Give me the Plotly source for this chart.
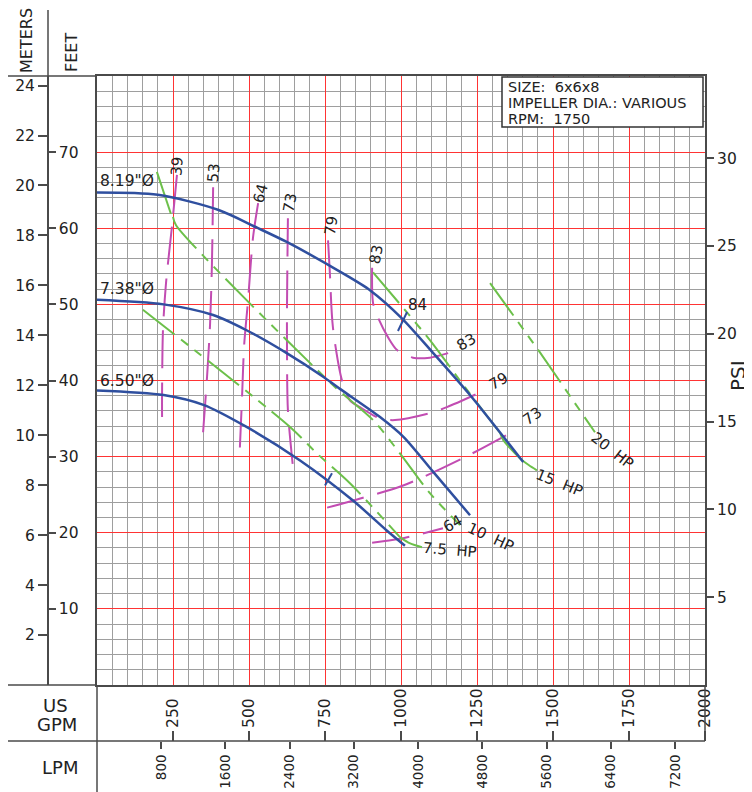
import plotly.graph_objects as go

# page has an 8px body margin, so the figure is 744x784 and placed at (8, 8)
OFF = 8
W, H = 752 - OFF, 792 - OFF

# ---------------- data (US GPM, head in feet) ----------------
gpm_ticks = [250, 500, 750, 1000, 1250, 1500, 1750, 2000]
lpm_ticks = [800, 1600, 2400, 3200, 4000, 4800, 5600, 6400, 7200]
feet_ticks = [10, 20, 30, 40, 50, 60, 70]
meter_ticks = [2, 4, 6, 8, 10, 12, 14, 16, 18, 20, 22, 24]
psi_ticks = [5, 10, 15, 20, 25, 30]

# impeller head curves
imp819_gpm = [0, 200, 400, 525, 624, 799, 900, 1002, 1106, 1227, 1337, 1402]
imp819_ft = [64.7, 64.4, 62.4, 60.1, 58.2, 54.3, 51.8, 48.2, 43.6, 38.1, 32.6, 29.3]
imp738_gpm = [0, 219, 382, 492, 624, 744, 799, 931, 1008, 1106, 1227]
imp738_ft = [50.6, 50.0, 48.6, 46.6, 43.6, 40.5, 38.9, 35.2, 32.6, 28.0, 22.3]
imp650_gpm = [0, 219, 350, 492, 668, 843, 953, 1013]
imp650_ft = [38.7, 38.1, 36.8, 33.9, 29.5, 24.2, 20.3, 18.3]

# best efficiency marks
bep1_gpm = [990, 1020]
bep1_ft = [46.5, 49.0]
bep2_gpm = [750, 773]
bep2_ft = [26.2, 27.8]

# horsepower lines
hp10_solid_gpm = [197, 243]
hp10_solid_ft = [67.4, 61.9]
hp10_gpm = [250, 260, 776, 908, 997, 1095, 1194]
hp10_ft = [61.5, 60.4, 39.4, 34.8, 30.4, 25.2, 21.0]
hp75_gpm = [151, 635, 724, 832, 997]
hp75_ft = [49.3, 33.9, 30.4, 26.5, 19.4]
hp75_end_gpm = [997, 1030, 1069]
hp75_end_ft = [19.4, 18.6, 18.1]
hp15_gpm = [908, 1095, 1194, 1326]
hp15_ft = [54.2, 45.3, 40.0, 33.1]
hp15_end_gpm = [1326, 1336, 1391, 1420, 1447]
hp15_end_ft = [33.1, 32.2, 29.8, 28.9, 28.2]
hp20_gpm = [1293, 1457, 1638]
hp20_ft = [52.8, 43.7, 33.2]

# efficiency curves
eff39_gpm = [263, 247, 227, 217, 214, 214]
eff39_ft = [67.0, 60.4, 52.8, 46.6, 38.3, 35.2]
eff53_gpm = [382, 378, 372, 362, 349]
eff53_ft = [65.4, 55.2, 47.5, 40.5, 33.2]
eff64a_gpm = [530, 513, 497, 484, 477, 470]
eff64a_ft = [63.3, 58.7, 50.6, 44.6, 37.7, 31.2]
eff64b_gpm = [905, 997, 1138]
eff64b_ft = [18.7, 19.2, 20.6]
eff73a_gpm = [628, 625, 625, 628, 645]
eff73a_ft = [61.3, 49.7, 44.0, 36.1, 28.5]
eff73b_gpm = [757, 875, 1007, 1204, 1359]
eff73b_ft = [23.3, 24.6, 26.2, 29.8, 33.1]
eff79_gpm = [760, 766, 776, 806, 832, 865, 931, 980, 1095, 1151, 1253]
eff79_ft = [58.4, 54.1, 47.0, 40.0, 37.4, 36.5, 35.0, 34.8, 35.7, 36.5, 38.3]
eff83_gpm = [905, 908, 924, 957, 987, 1039, 1095, 1155]
eff83_ft = [54.8, 50.2, 48.3, 45.7, 44.0, 43.0, 43.0, 43.6]

# curve labels
imp_labels = [("8.19\"Ø", 66.2), ("7.38\"Ø", 52.0), ("6.50\"Ø", 40.0)]
eff_labels = [("39", 263, 68.2, -85), ("53", 385, 67.2, -85), ("64", 539, 64.6, -75),
              ("73", 635, 63.3, -80), ("79", 770, 60.3, -82), ("83", 918, 56.5, -80),
              ("84", 1053, 49.9, 0), ("83", 1217, 45.0, -30), ("79", 1322, 39.9, -30),
              ("73", 1434, 35.3, -35), ("64", 1168, 21.2, -30)]
hp_labels = [("10  HP", 1293, 19.4, 25), ("7.5  HP", 1161, 17.8, 5),
             ("15  HP", 1523, 26.6, 22), ("20  HP", 1697, 30.8, 38)]
info_lines = ["SIZE:  6x6x8", "IMPELLER DIA.: VARIOUS", "RPM:  1750"]

FT_PER_M = 3.28084
FT_PER_PSI = 2.30666
LPM_PER_GPM = 3.78541

# ---------------- style ----------------
BLUE = "#2f4f9f"
GREEN = "#6cc04a"
MAG = "#c24cb2"
RED = "#ff3434"
GRAY = "#9e9e9e"
AX = "#4a4a4a"
FONT = "DejaVu Sans, Liberation Sans, sans-serif"
TXT = "#222222"


def px(x):
    return (x - OFF) / W


def py(y):
    return 1 - (y - OFF) / H


fig = go.Figure()


def line(xs, ys, color, width=2.0, dash="solid", spline=True):
    fig.add_trace(go.Scatter(
        x=xs, y=ys, mode="lines",
        line=dict(color=color, width=width, dash=dash,
                  shape="spline" if spline else "linear", smoothing=0.8),
        showlegend=False, hoverinfo="skip"))


EFF_DASH = "38px,14px"
HP_DASH = "40px,8px,9px,8px,9px,8px"

for xs, ys in [(eff39_gpm, eff39_ft), (eff53_gpm, eff53_ft), (eff64a_gpm, eff64a_ft),
               (eff64b_gpm, eff64b_ft), (eff73a_gpm, eff73a_ft), (eff73b_gpm, eff73b_ft),
               (eff79_gpm, eff79_ft), (eff83_gpm, eff83_ft)]:
    line(xs, ys, MAG, 2.0, EFF_DASH)

line(hp10_solid_gpm, hp10_solid_ft, GREEN, 2.0, "solid", False)
line(hp10_gpm, hp10_ft, GREEN, 2.0, HP_DASH)
line(hp75_gpm, hp75_ft, GREEN, 2.0, HP_DASH)
line(hp75_end_gpm, hp75_end_ft, GREEN, 2.0, "solid")
line(hp15_gpm, hp15_ft, GREEN, 2.0, HP_DASH)
line(hp15_end_gpm, hp15_end_ft, GREEN, 2.0, "solid")
line(hp20_gpm, hp20_ft, GREEN, 2.0, HP_DASH, False)

for xs, ys in [(imp819_gpm, imp819_ft), (imp738_gpm, imp738_ft), (imp650_gpm, imp650_ft)]:
    line(xs, ys, BLUE, 2.5)
line(bep1_gpm, bep1_ft, BLUE, 2.0, "solid", False)
line(bep2_gpm, bep2_ft, BLUE, 2.0, "solid", False)

# invisible traces so that the extra scale axes are drawn
for xa, ya in [("x2", "y"), ("x3", "y"), ("x", "y2"), ("x", "y3"), ("x", "y4")]:
    fig.add_trace(go.Scatter(x=[None], y=[None], xaxis=xa, yaxis=ya, mode="markers",
                             showlegend=False, hoverinfo="skip"))

ann = []
for t, ft in imp_labels:
    ann.append(dict(x=3, y=ft, xref="x", yref="y", text=t, showarrow=False,
                    xanchor="left", yanchor="middle", font=dict(size=15.5, color=TXT, family=FONT)))
for t, g, ft, a in eff_labels + hp_labels:
    ann.append(dict(x=g, y=ft, xref="x", yref="y", text=t, showarrow=False, textangle=a,
                    xanchor="center", yanchor="middle", font=dict(size=15, color=TXT, family=FONT)))

# info box text
for t, yy in zip(info_lines, [86.5, 103, 119]):
    ann.append(dict(x=px(506), y=py(yy), xref="paper", yref="paper", xanchor="left",
                    yanchor="middle", text=t, showarrow=False,
                    font=dict(size=14.5, color=TXT, family=FONT)))

# axis captions
cap = dict(showarrow=False, xref="paper", yref="paper", xanchor="center", yanchor="middle")
ann.append(dict(cap, x=px(27), y=py(41), text="METERS", textangle=-90, font=dict(size=16, color=TXT, family=FONT)))
ann.append(dict(cap, x=px(71), y=py(52), text="FEET", textangle=-90, font=dict(size=16, color=TXT, family=FONT)))
ann.append(dict(cap, x=px(55), y=py(705), text="US", font=dict(size=18, color=TXT, family=FONT)))
ann.append(dict(cap, x=px(57), y=py(724), text="GPM", font=dict(size=18, color=TXT, family=FONT)))
ann.append(dict(cap, x=px(60), y=py(767), text="LPM", font=dict(size=18, color=TXT, family=FONT)))
ann.append(dict(cap, x=px(738), y=py(376), text="PSI", textangle=-90, font=dict(size=20, color=TXT, family=FONT)))

# frame lines outside the plot area, and the info box
shapes = []
for x0, y0, x1, y1 in [(6, 76, 97, 76), (6, 685, 97, 685), (6, 741, 705, 741),
                       (48, 10, 48, 76), (97, 685, 97, 792), (705, 685, 705, 741)]:
    shapes.append(dict(type="line", xref="paper", yref="paper", x0=px(x0), y0=py(y0),
                       x1=px(x1), y1=py(y1), line=dict(color=AX, width=1.5)))
shapes.append(dict(type="rect", xref="paper", yref="paper", x0=px(502), y0=py(77),
                   x1=px(703), y1=py(127), fillcolor="white", line=dict(color="#333333", width=1.5)))

tickfont = dict(size=15.5, color=TXT, family=FONT)
xdom = [px(97), px(705)]
ydom = [py(685), py(76)]
bottom_pos = py(741)

fig.update_layout(
    width=W, height=H, margin=dict(l=0, r=0, t=0, b=0, autoexpand=False),
    paper_bgcolor="white", plot_bgcolor="white", showlegend=False,
    annotations=ann, shapes=shapes,
    xaxis=dict(domain=xdom, range=[0, 2000], anchor="y", tick0=0, dtick=250,
               showgrid=True, gridcolor=RED, gridwidth=1,
               minor=dict(dtick=50, tick0=0, showgrid=True, gridcolor=GRAY, gridwidth=1),
               showticklabels=False, ticks="", zeroline=False, automargin=False,
               showline=True, mirror=True, linecolor=AX, linewidth=1.5),
    yaxis=dict(domain=ydom, range=[0, 80], anchor="x", tick0=0, dtick=10,
               showgrid=True, gridcolor=RED, gridwidth=1,
               minor=dict(dtick=2, tick0=0, showgrid=True, gridcolor=GRAY, gridwidth=1),
               showticklabels=False, ticks="", zeroline=False, automargin=False,
               showline=True, mirror=True, linecolor=AX, linewidth=1.5),
    xaxis2=dict(overlaying="x", anchor="free", position=bottom_pos, side="top",
                range=[0, 2000], tickvals=gpm_ticks, ticks="outside", ticklen=10,
                tickcolor=AX, tickwidth=1.5, tickangle=-90, tickfont=tickfont,
                showgrid=False, zeroline=False, showline=False, automargin=False),
    xaxis3=dict(overlaying="x", anchor="free", position=bottom_pos, side="bottom",
                range=[0, 2000 * LPM_PER_GPM], tickvals=lpm_ticks, ticks="outside", ticklen=7,
                tickcolor=AX, tickwidth=1.5, tickangle=-90,
                tickfont=dict(size=13.5, color=TXT, family=FONT),
                showgrid=False, zeroline=False, showline=False, automargin=False),
    yaxis2=dict(overlaying="y", anchor="free", position=px(48), side="right",
                range=[0, 80], tickvals=feet_ticks, ticks="outside", ticklen=7,
                tickcolor=AX, tickwidth=1.5, tickfont=tickfont, automargin=False,
                showgrid=False, zeroline=False, showline=True, linecolor=AX, linewidth=1.5),
    yaxis3=dict(overlaying="y", anchor="free", position=px(48), side="left",
                range=[0, 80 / FT_PER_M], tickvals=meter_ticks, ticks="outside", ticklen=10,
                tickcolor=AX, tickwidth=1.5, tickfont=tickfont, automargin=False,
                showgrid=False, zeroline=False, showline=False),
    yaxis4=dict(overlaying="y", anchor="x", side="right",
                range=[0, 80 / FT_PER_PSI], tickvals=psi_ticks, ticks="outside", ticklen=8,
                tickcolor=AX, tickwidth=1.5, tickfont=tickfont, automargin=False,
                showgrid=False, zeroline=False, showline=False),
)

fig.write_html("out.html")
